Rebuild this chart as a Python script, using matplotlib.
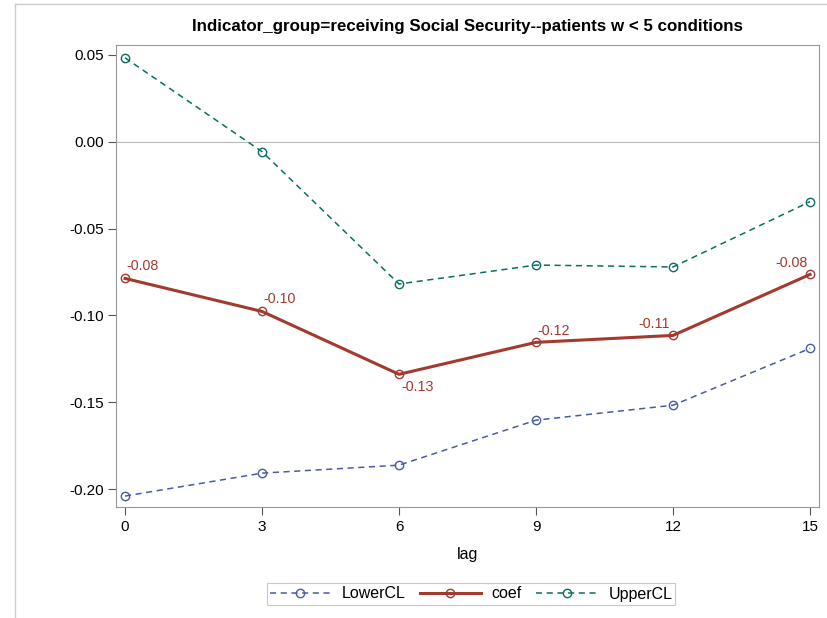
import matplotlib
matplotlib.use("Agg")
import matplotlib.pyplot as plt
from matplotlib.lines import Line2D

plt.rcParams['font.family'] = ['Liberation Sans', 'DejaVu Sans']

lag = [0, 3, 6, 9, 12, 15]
lower_cl = [-0.2040, -0.1908, -0.1862, -0.1603, -0.1517, -0.1190]
coef = [-0.0787, -0.0977, -0.1339, -0.1155, -0.1115, -0.0764]
upper_cl = [0.0483, -0.0057, -0.0819, -0.0710, -0.0721, -0.0345]
coef_labels = ["-0.08", "-0.10", "-0.13", "-0.12", "-0.11", "-0.08"]

c_low = "#4a5b9e"
c_coef = "#a23a2e"
c_up = "#0a6e63"

fig = plt.figure(figsize=(8.27, 6.18), dpi=100)
ax = fig.add_axes([0.1403, 0.1796, 0.85, 0.7476])

ax.axhline(0, color="#b8b8b8", lw=0.8, zorder=1)

mk = dict(marker="o", markersize=6, markerfacecolor="none", markeredgewidth=1.0)
ax.plot(lag, lower_cl, color=c_low, ls=(0, (4, 3)), lw=1.1, **mk, label="LowerCL")
ax.plot(lag, coef, color=c_coef, ls="-", lw=2.2, **mk, label="coef")
ax.plot(lag, upper_cl, color=c_up, ls=(0, (4, 3)), lw=1.1, **mk, label="UpperCL")

# data labels, placed like SAS does
offs = [(1, 4, "left", "bottom"), (1, 4, "left", "bottom"), (2, -4, "left", "top"),
        (1, 3, "left", "bottom"), (-2, 3, "right", "bottom"), (-2, 3, "right", "bottom")]
for x, y, t, (dx, dy, ha, va) in zip(lag, coef, coef_labels, offs):
    ax.annotate(t, (x, y), xytext=(dx, dy), textcoords="offset points",
                ha=ha, va=va, color=c_coef, fontsize=10.3)

ax.set_xlim(-0.197, 15.196)
ax.set_ylim(-0.2103, 0.0557)
ax.set_xticks(lag)
ax.set_yticks([0.05, 0.0, -0.05, -0.10, -0.15, -0.20])
ax.set_yticklabels(["0.05", "0.00", "-0.05", "-0.10", "-0.15", "-0.20"])
ax.tick_params(labelsize=11, color="#555555", length=6, width=0.8, pad=3)
for s in ax.spines.values():
    s.set_color("#999999")
    s.set_linewidth(0.8)

ax.set_xlabel("lag", fontsize=11.5, labelpad=10)
ax.set_title("Indicator_group=receiving Social Security--patients w < 5 conditions",
             fontsize=12.2, fontweight="bold", pad=10)

leg = ax.legend(loc="center", bbox_to_anchor=(471 / 827, 1 - 594 / 618),
                bbox_transform=fig.transFigure, ncol=3, frameon=True, fancybox=False,
                fontsize=11.5, handlelength=3.8, columnspacing=0.9, handletextpad=0.7,
                borderpad=0.2, borderaxespad=0)
leg.get_frame().set_edgecolor("#bbbbbb")
leg.get_frame().set_linewidth(0.8)

# faint outer frame lines
fig.add_artist(Line2D([15 / 827, 15 / 827], [0, 1 - 4 / 618], color="#cccccc", lw=1))
fig.add_artist(Line2D([15 / 827, 1], [1 - 4 / 618, 1 - 4 / 618], color="#cccccc", lw=1))

fig.savefig("out.png", dpi=100)
